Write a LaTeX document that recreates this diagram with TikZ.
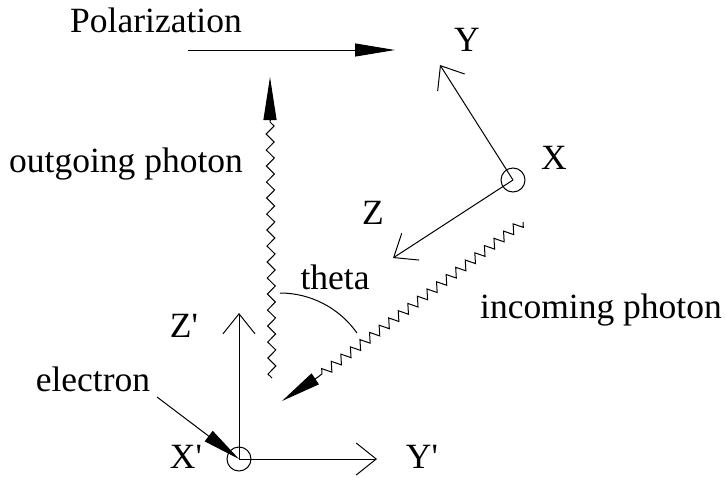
\documentclass[tikz,border=0pt]{standalone}
\usepackage{fontspec}
\setmainfont{Liberation Serif}
\usetikzlibrary{arrows.meta,decorations.pathmorphing}
\begin{document}
\begin{tikzpicture}[x=1pt,y=-1pt,line width=1pt,
		axis/.style={-{Straight Barb[length=20pt,width=32pt,line width=1pt]}},
		head/.style={-{Triangle[length=#1,width=13pt]}},
		outwave/.style={decorate,decoration={zigzag,segment length=16pt,amplitude=4pt}},
		inwave/.style={decorate,decoration={zigzag,segment length=12pt,amplitude=4.5pt}}]
		\tikzstyle{every node}=[font=\fontsize{35.5pt}{42pt}\selectfont, inner sep=0pt]
		
		\useasboundingbox (0,0) rectangle (726,477);
		
		% polarization
		\node (pol) at (156,20) {Polarization};
		\coordinate (polA) at (188,50);
		\coordinate (polB) at (395,50);
		\draw[head=40pt] (polA) -- (polB);
		
		% rotated frame
		\coordinate (O) at (513,180);
		\coordinate (Ytip) at (440,65);
		\coordinate (Ztip) at (393,258);
		\draw (O) circle[radius=12];
		\draw[axis] (O) -- (Ytip);
		\draw[axis] (O) -- (Ztip);
		\node (Y) at (467,40) {Y};
		\node (X) at (554,158) {X};
		\node (Z) at (373,213) {Z};
		
		% outgoing photon
		\coordinate (outA) at (272,378);
		\coordinate (outB) at (270,120);
		\coordinate (outC) at (270,77);
		\draw[outwave] (outA) -- (outB);
		\draw[head=43pt] (outB) -- (outC);
		\node (outlbl) at (126,164) {outgoing photon};
		
		% incoming photon
		\coordinate (inA) at (523,222);
		\coordinate (inB) at (318,377);
		\coordinate (inC) at (282,401);
		\draw[inwave] (inA) -- (inB);
		\draw[head=40pt] (inB) -- (inC);
		\node (inlbl) at (601,310) {incoming photon};
		
		% angle
		\draw (280,293) arc[start angle=-90, end angle=-35, radius=94];
		\node (theta) at (335,277) {theta};
		
		% electron frame
		\coordinate (E) at (239,459);
		\coordinate (Zptip) at (239,313);
		\coordinate (Yptip) at (377,459);
		\draw (E) circle[radius=12];
		\draw[axis] (E) -- (Zptip);
		\draw[axis] (E) -- (Yptip);
		\node (Zp) at (184,326) {Z\textquotesingle};
		\node (Xp) at (186,457) {X\textquotesingle};
		\node (Yp) at (422,457) {Y\textquotesingle};
		
		% electron
		\node (elbl) at (93,379) {electron};
		\coordinate (eA) at (157,397);
		\draw[head=38pt] (eA) -- (E);
		
	\end{tikzpicture}
\end{document}
